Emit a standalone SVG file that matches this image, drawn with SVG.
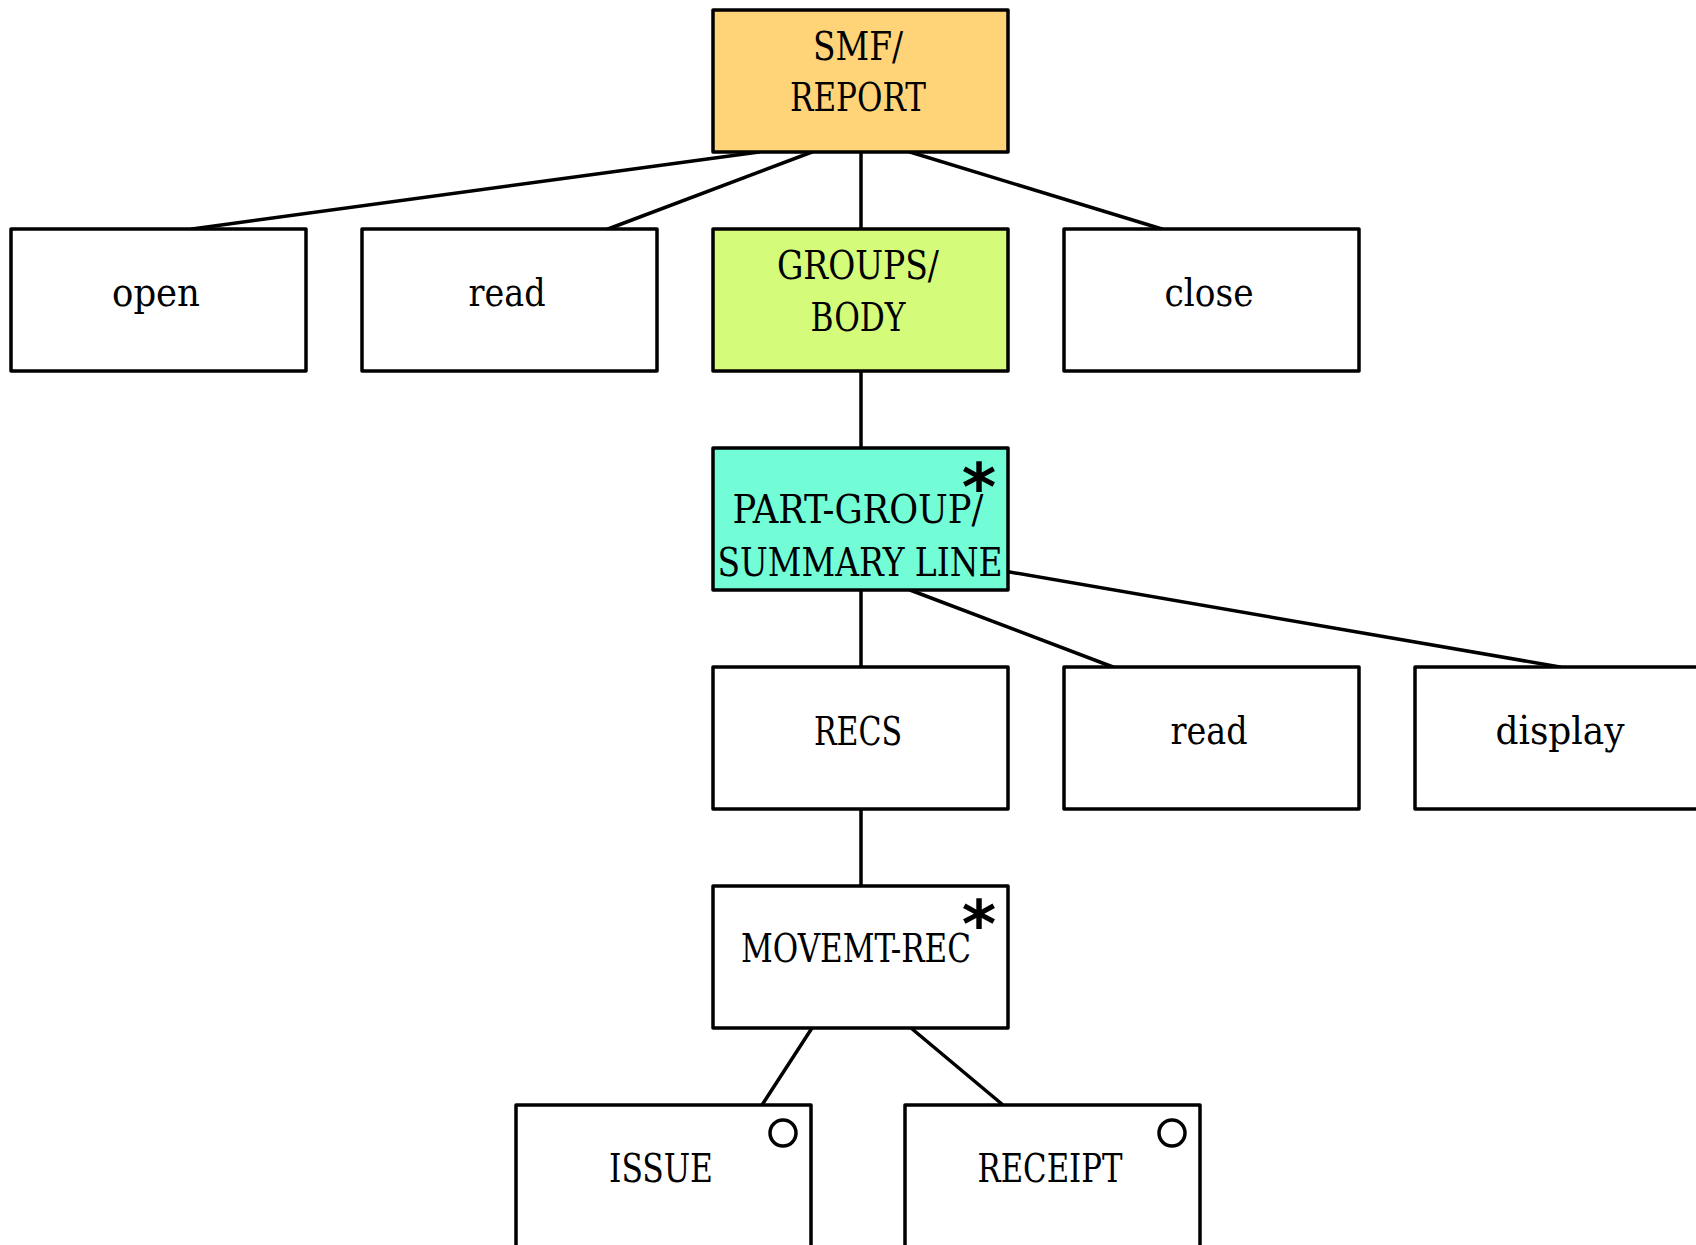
<svg xmlns="http://www.w3.org/2000/svg" width="1696" height="1245" viewBox="0 0 1696 1245">
<style>
.box{stroke:#000;stroke-width:3.5;stroke-linejoin:round}
.plain{fill:#fff}
.t{font-family:"DejaVu Serif Condensed","DejaVu Serif",serif;font-stretch:condensed;font-size:40px;fill:#000;text-anchor:middle}
.star{font-family:"DejaVu Sans",sans-serif;font-weight:bold;font-size:66px;fill:#000;text-anchor:middle}
.conn line{stroke:#000;stroke-width:3.5;stroke-linecap:round}
.sel{fill:none;stroke:#000;stroke-width:3.5}
</style>
<rect width="1696" height="1245" fill="#fff"/>
<g class="conn" id="connectors">
<line x1="759" y1="152" x2="192" y2="229"/>
<line x1="812" y1="152" x2="608" y2="229"/>
<line x1="861" y1="152" x2="861" y2="229"/>
<line x1="910" y1="152" x2="1162" y2="229"/>
<line x1="861" y1="371" x2="861" y2="448"/>
<line x1="861" y1="590" x2="861" y2="667"/>
<line x1="910" y1="590" x2="1113" y2="667"/>
<line x1="1004" y1="571" x2="1560" y2="667"/>
<line x1="861" y1="809" x2="861" y2="886"/>
<line x1="812" y1="1028" x2="762" y2="1105"/>
<line x1="911" y1="1028" x2="1003" y2="1105"/>
</g>
<g id="smf-report">
<rect class="box" x="713" y="10" width="295" height="142" fill="#FFD479"/>
<text class="t" x="858" y="60" textLength="90" lengthAdjust="spacingAndGlyphs">SMF/</text>
<text class="t" x="858" y="111" textLength="136" lengthAdjust="spacingAndGlyphs">REPORT</text>
</g>
<g id="open">
<rect class="box plain" x="11" y="229" width="295" height="142"/>
<text class="t" x="156" y="306" textLength="88" lengthAdjust="spacingAndGlyphs">open</text>
</g>
<g id="read1">
<rect class="box plain" x="362" y="229" width="295" height="142"/>
<text class="t" x="507" y="306" textLength="77" lengthAdjust="spacingAndGlyphs">read</text>
</g>
<g id="groups-body">
<rect class="box" x="713" y="229" width="295" height="142" fill="#D4FB79"/>
<text class="t" x="858" y="279" textLength="162" lengthAdjust="spacingAndGlyphs">GROUPS/</text>
<text class="t" x="858" y="331" textLength="95" lengthAdjust="spacingAndGlyphs">BODY</text>
</g>
<g id="close">
<rect class="box plain" x="1064" y="229" width="295" height="142"/>
<text class="t" x="1209" y="306" textLength="89" lengthAdjust="spacingAndGlyphs">close</text>
</g>
<g id="part-group">
<rect class="box" x="713" y="448" width="295" height="142" fill="#73FDD6"/>
<text class="t" x="858" y="523" textLength="251" lengthAdjust="spacingAndGlyphs">PART-GROUP/</text>
<text class="t" x="860" y="576" textLength="285" lengthAdjust="spacingAndGlyphs">SUMMARY LINE</text>
<text class="star" x="979" y="510">*</text>
</g>
<g id="recs">
<rect class="box plain" x="713" y="667" width="295" height="142"/>
<text class="t" x="858" y="745" textLength="88" lengthAdjust="spacingAndGlyphs">RECS</text>
</g>
<g id="read2">
<rect class="box plain" x="1064" y="667" width="295" height="142"/>
<text class="t" x="1209" y="744" textLength="77" lengthAdjust="spacingAndGlyphs">read</text>
</g>
<g id="display">
<rect class="box plain" x="1415" y="667" width="295" height="142"/>
<text class="t" x="1560" y="744" textLength="129" lengthAdjust="spacingAndGlyphs">display</text>
</g>
<g id="movemt-rec">
<rect class="box plain" x="713" y="886" width="295" height="142"/>
<text class="t" x="856" y="962" textLength="230" lengthAdjust="spacingAndGlyphs">MOVEMT-REC</text>
<text class="star" x="979" y="947">*</text>
</g>
<g id="issue">
<rect class="box plain" x="516" y="1105" width="295" height="142"/>
<text class="t" x="661" y="1182" textLength="104" lengthAdjust="spacingAndGlyphs">ISSUE</text>
<circle class="sel" cx="783" cy="1133" r="13"/>
</g>
<g id="receipt">
<rect class="box plain" x="905" y="1105" width="295" height="142"/>
<text class="t" x="1050" y="1182" textLength="145" lengthAdjust="spacingAndGlyphs">RECEIPT</text>
<circle class="sel" cx="1172" cy="1133" r="13"/>
</g>
</svg>
